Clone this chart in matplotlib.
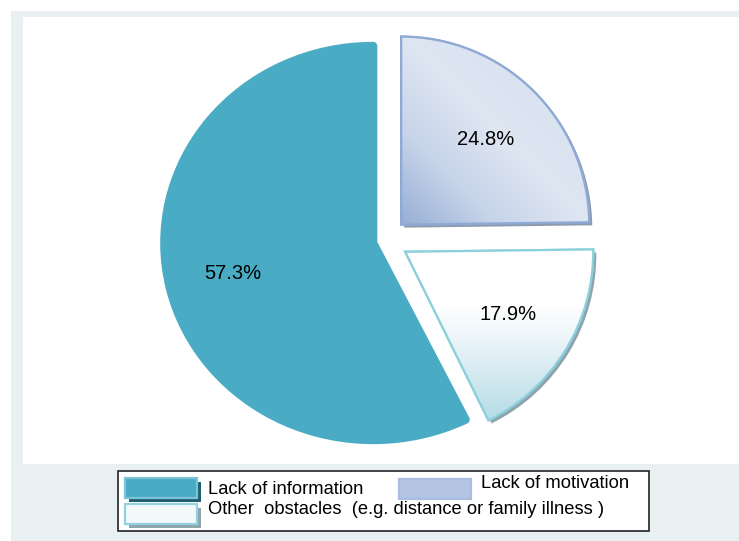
import numpy as np
import matplotlib.pyplot as plt
import matplotlib.patches as mpatches
import matplotlib.patheffects as pe
from matplotlib.colors import LinearSegmentedColormap
from matplotlib.transforms import Affine2D

plt.rcParams['font.family'] = ['Liberation Sans', 'DejaVu Sans']

# slices, clockwise from 12 o'clock
labels = ['Lack of motivation',
          'Other  obstacles  (e.g. distance or family illness )',
          'Lack of information']
shares = [24.8, 17.9, 57.3]
explode = [0.115, 0.12, 0.07]
colors = ['#c9d6ea', '#e4f2f6', '#4aabc5']
edges = ['#8eaad4', '#8ccfdd', '#4aabc5']

W, H = 739, 541
R = 188.0  # pixels per pie unit


def fx(px):
    return px / W


def fy(py):
    return 1 - py / H


fig = plt.figure(figsize=(W / 100, H / 100), dpi=100)
fig.patch.set_facecolor('white')
fig.add_artist(mpatches.Rectangle((fx(11), 0), 1 - fx(11), fy(11), transform=fig.transFigure,
                                  facecolor='#e8f0f2', edgecolor='none', zorder=0))
fig.add_artist(mpatches.Rectangle((fx(23), fy(464)), 1 - fx(23), fy(17) - fy(464),
                                  transform=fig.transFigure, facecolor='white',
                                  edgecolor='none', zorder=0))

ax = fig.add_axes([0, 0, 1, 1])
ax.patch.set_visible(False)

wedges, texts, autotexts = ax.pie(shares, explode=explode, startangle=90, counterclock=False,
                                  radius=1, colors=colors, autopct='%.1f%%', pctdistance=0.64,
                                  wedgeprops=dict(linewidth=1.6),
                                  textprops=dict(fontsize=14.5, color='black'))
for w, ec in zip(wedges, edges):
    w.set_edgecolor(ec)

# big slice: a bit larger, slightly wider, rounded corners
big = wedges[2]
big.set_radius(197 / R)
big.set_linewidth(6)
big.set_joinstyle('round')
cx, cy = big.center
big.set_transform(Affine2D().translate(-cx, -cy).scale(1.06, 1.0).translate(cx, cy) + ax.transData)
th = np.deg2rad((big.theta1 + big.theta2) / 2)
autotexts[2].set_position((cx + 0.69 * 1.06 * big.r * np.cos(th), cy + 0.69 * big.r * np.sin(th)))

# gradient fills for the two exploded slices
grad_specs = [
    (['#97aed6', '#c6d3e9', '#dee6f2', '#d9e2f0', '#c6d3e9'], 'diag', '#8e9bad'),
    (['#b6dce7', '#dcedf3', '#ffffff', '#ffffff'], 'vert', '#8fa3ac'),
]
n = 200
for w, (cols, kind, shadow) in zip(wedges[:2], grad_specs):
    w.set_path_effects([pe.SimplePatchShadow(offset=(2.2, -2.2), shadow_rgbFace=shadow, alpha=1.0),
                        pe.Normal()])
    w.set_zorder(1)
    x0, y0 = w.center
    r = w.r
    t1, t2 = np.deg2rad(w.theta1), np.deg2rad(w.theta2)
    angs = np.linspace(t1, t2, 50)
    xs = np.concatenate([[x0], x0 + r * np.cos(angs)])
    ys = np.concatenate([[y0], y0 + r * np.sin(angs)])
    ext = [xs.min(), xs.max(), ys.min(), ys.max()]
    gx, gy = np.meshgrid(np.linspace(0, 1, n), np.linspace(0, 1, n))
    g = (gx + gy) / 2 if kind == 'diag' else gy
    cmap = LinearSegmentedColormap.from_list('g', cols)
    im = ax.imshow(g, extent=ext, origin='lower', cmap=cmap, vmin=0, vmax=1,
                   interpolation='bilinear', zorder=2)
    im.set_clip_path(w)
    ax.add_patch(mpatches.Wedge(w.center, w.r, w.theta1, w.theta2, fill=False,
                                edgecolor=w.get_edgecolor(), linewidth=1.6, zorder=3))

for t in autotexts:
    t.set_zorder(5)

# pie centre at pixel (386, 240)
ax.set_xlim(-386 / R, (W - 386) / R)
ax.set_ylim(-(H - 240) / R, 240 / R)
ax.set_aspect('equal')
ax.set_axis_off()

# legend box
fig.add_artist(mpatches.Rectangle((fx(118), fy(531)), fx(649) - fx(118), fy(471) - fy(531),
                                  transform=fig.transFigure, facecolor='white',
                                  edgecolor='#222222', linewidth=1.2, zorder=4))
leg_items = [
    # label, face, edge, shadow, patch x, patch y(top), text x, text y(center)
    (labels[2], '#4aabc5', '#7cc3d6', '#1f5f70', 125, 478, 208, 490),
    (labels[1], '#f3f9fb', '#93d1df', '#8fa5ae', 125, 504, 208, 510),
    (labels[0], '#b4c5e3', '#a9bde0', None, 399, 479, 481, 484),
]
for lab, fc, ec, sh, px, py, tx, ty in leg_items:
    effects = [pe.Normal()]
    if sh is not None:
        effects = [pe.SimplePatchShadow(offset=(2.8, -3.2), shadow_rgbFace=sh, alpha=1.0), pe.Normal()]
    fig.add_artist(mpatches.Rectangle((fx(px), fy(py + 20)), fx(72), 20 / H,
                                      transform=fig.transFigure, facecolor=fc, edgecolor=ec,
                                      linewidth=1.6, zorder=5, path_effects=effects))
    fig.text(fx(tx), fy(ty), lab, fontsize=13.2, ha='left', va='center', zorder=6)

fig.savefig('out.png', dpi=100)
